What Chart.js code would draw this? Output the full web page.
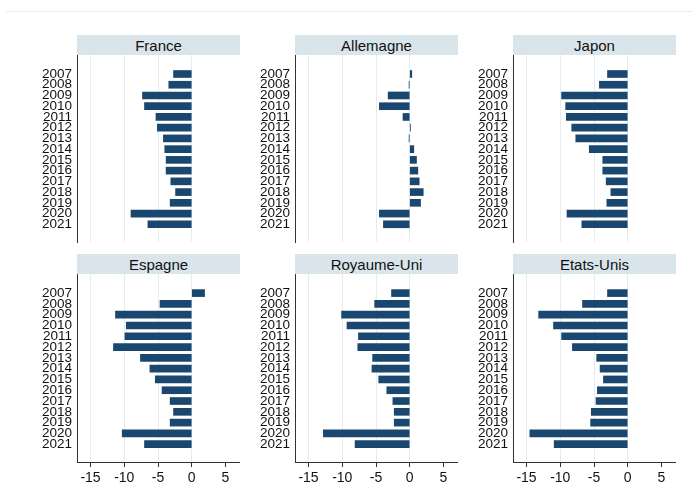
<!DOCTYPE html>
<html><head><meta charset="utf-8">
<script src="https://cdn.jsdelivr.net/npm/chart.js@4/dist/chart.umd.min.js"></script>
<style>
html,body{margin:0;padding:0;background:#fff;}
#wrap{position:relative;width:692px;height:490px;overflow:hidden;background:#fff;}
#wrap canvas{position:absolute;left:0;top:0;}
.hdr{position:absolute;height:20px;background:#d9e5eb;font:15px "Liberation Sans",Arial,sans-serif;color:#111;text-align:center;line-height:21px;}
.topline{position:absolute;left:6px;top:11px;width:686px;height:1px;background:#e6ebec;}
</style></head>
<body><div id="wrap"><div class="topline"></div></div>
<script>
// ---- data ----
const years = [2007,2008,2009,2010,2011,2012,2013,2014,2015,2016,2017,2018,2019,2020,2021];
const countries = ['France','Allemagne','Japon','Espagne','Royaume-Uni','Etats-Unis'];
const france     = [-2.7,-3.4,-7.3,-7.0,-5.3,-5.1,-4.2,-4.0,-3.8,-3.8,-3.1,-2.4,-3.2,-9.0,-6.5];
const allemagne  = [0.3,-0.1,-3.2,-4.5,-1.0,0.1,-0.1,0.6,1.0,1.2,1.4,2.0,1.6,-4.5,-3.9];
const japon      = [-3.0,-4.2,-9.8,-9.2,-9.1,-8.3,-7.7,-5.7,-3.7,-3.7,-3.2,-2.5,-3.1,-9.0,-6.8];
const espagne    = [1.9,-4.7,-11.3,-9.7,-9.9,-11.6,-7.6,-6.2,-5.4,-4.4,-3.2,-2.7,-3.2,-10.3,-7.0];
const royaumeUni = [-2.7,-5.2,-10.1,-9.3,-7.6,-7.7,-5.5,-5.6,-4.6,-3.4,-2.5,-2.3,-2.3,-12.8,-8.1];
const etatsUnis  = [-3.0,-6.7,-13.2,-11.0,-9.8,-8.2,-4.6,-4.1,-3.6,-4.5,-4.7,-5.4,-5.5,-14.5,-10.9];
const xTickValues = [-15,-10,-5,0,5];
const seriesList = [france, allemagne, japon, espagne, royaumeUni, etatsUnis];

// ---- layout ----
const W = 692, H = 490;
const colLeft = [77, 295, 513];
const panelW = 162;
const rowPlotTop = [55, 274];
const rowPlotBottom = [242, 462];
const hdrTop = [35, 254];
const yAxisW = 60;

Chart.defaults.font.family = '"Liberation Sans", Arial, sans-serif';
const wrap = document.getElementById('wrap');

seriesList.forEach((vals, i) => {
  const row = Math.floor(i / 3), col = i % 3;
  const L = colLeft[col];
  const isBottom = row === 1;
  const xAxisH = isBottom ? 28 : 0;

  const hdr = document.createElement('div');
  hdr.className = 'hdr';
  hdr.style.left = L + 'px';
  hdr.style.top = hdrTop[row] + 'px';
  hdr.style.width = (panelW + 1) + 'px';
  hdr.textContent = countries[i];
  wrap.appendChild(hdr);

  const cv = document.createElement('canvas');
  cv.width = W; cv.height = H;
  cv.style.width = W + 'px'; cv.style.height = H + 'px';
  wrap.appendChild(cv);

  new Chart(cv, {
    type: 'bar',
    data: { datasets: [{ data: years.map((y, k) => ({ x: vals[k], y: y })),
        backgroundColor: '#1a476f', borderWidth: 0, barThickness: 7 }] },
    options: {
      indexAxis: 'y', responsive: false, animation: false, devicePixelRatio: 1,
      layout: { padding: { left: L - yAxisW, right: W - (L + panelW), top: rowPlotTop[row],
        bottom: H - rowPlotBottom[row] - xAxisH } },
      plugins: { legend: { display: false }, tooltip: { enabled: false } },
      scales: {
        x: { type: 'linear', min: -17, max: 7, offset: false,
          afterBuildTicks: s => { s.ticks = xTickValues.map(v => ({ value: v })); },
          afterFit: s => { s.height = xAxisH; s.paddingLeft = 0; s.paddingRight = 0; },
          grid: { color: c => (c.tick && c.tick.value <= 0) ? '#e3ecef' : 'rgba(0,0,0,0)',
            lineWidth: 1, drawTicks: isBottom, tickLength: 5, tickColor: '#333', offset: false },
          border: { display: isBottom, color: '#333', width: 1 },
          ticks: { display: isBottom, font: { size: 14 }, color: '#111', padding: 3,
                   autoSkip: false, maxRotation: 0, callback: v => String(v) } },
        y: { type: 'linear', reverse: true, min: 2005.23, max: 2022.65, offset: false,
          afterBuildTicks: s => { s.ticks = years.map(v => ({ value: v })); },
          afterFit: s => { s.width = yAxisW; s.paddingTop = 0; s.paddingBottom = 0; },
          grid: { display: false, drawTicks: false, offset: false },
          border: { display: true, color: '#333', width: 1 },
          ticks: { font: { size: 13.5 }, color: '#111', padding: 5, autoSkip: false,
                   callback: v => String(v) } }
      }
    }
  });
});
</script>
</body></html>
